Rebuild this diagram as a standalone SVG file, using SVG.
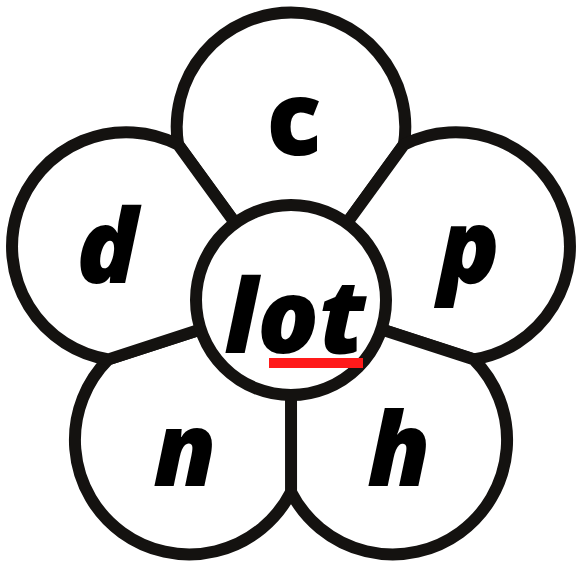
<svg xmlns="http://www.w3.org/2000/svg" width="576" height="565" viewBox="0 0 576 565">
<defs>
<style>
.petal{fill:#fff;stroke:#141210;stroke-width:12;stroke-linejoin:round}
.lbl{font-family:"Open Sans","DejaVu Sans",sans-serif;font-weight:800;font-style:italic;font-size:102px;fill:#000;text-anchor:middle}
</style>
<path id="petalShape" d="M0,0 L-112.9,-155.3 A114.3,114.3 0 1 1 112.9,-155.3 Z"/>
</defs>
<g id="petal-c" transform="translate(291,300)"><use href="#petalShape" class="petal"/></g>
<g id="petal-p" transform="translate(291,300) rotate(72)"><use href="#petalShape" class="petal"/></g>
<g id="petal-h" transform="translate(291,300) rotate(144)"><use href="#petalShape" class="petal"/></g>
<g id="petal-n" transform="translate(291,300) rotate(216)"><use href="#petalShape" class="petal"/></g>
<g id="petal-d" transform="translate(291,300) rotate(288)"><use href="#petalShape" class="petal"/></g>
<g id="center">
<circle cx="291" cy="300" r="95" class="petal"/>
<text x="295" y="353" class="lbl">lot</text>
<rect x="269" y="358" width="94" height="10" fill="#ff1a1a"/>
</g>
<g id="label-c"><text x="294" y="155" class="lbl" style="font-style:normal">c</text></g>
<g id="label-d"><text x="107" y="283" class="lbl">d</text></g>
<g id="label-p"><text x="469" y="283" class="lbl">p</text></g>
<g id="label-n"><text x="185" y="486" class="lbl">n</text></g>
<g id="label-h"><text x="399" y="486" class="lbl">h</text></g>
</svg>
